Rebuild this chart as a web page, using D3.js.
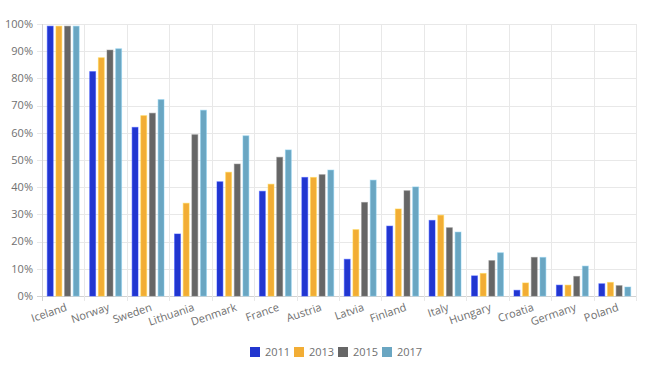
<!DOCTYPE html>
<html>
<head>
<meta charset="utf-8">
<script src="https://cdn.jsdelivr.net/npm/d3@7"></script>
<style>
  body { margin: 0; background: #fff; }
  text { font-family: "Open Sans", sans-serif; }
</style>
</head>
<body>
<script>
// categories and series (values in %)
const countries = ["Iceland", "Norway", "Sweden", "Lithuania", "Denmark", "France", "Austria",
  "Latvia", "Finland", "Italy", "Hungary", "Croatia", "Germany", "Poland"];
const years = ["2011", "2013", "2015", "2017"];
const v2011 = [99.2, 82.5, 62.0, 22.8, 42.0, 38.5, 43.6, 13.5, 25.7, 27.8, 7.4, 2.1, 4.0, 4.5];
const v2013 = [99.2, 87.6, 66.3, 34.1, 45.5, 41.1, 43.6, 24.4, 32.0, 29.7, 8.3, 4.8, 4.0, 5.0];
const v2015 = [99.2, 90.4, 67.2, 59.3, 48.5, 51.0, 44.6, 34.4, 38.7, 25.1, 13.0, 14.2, 7.2, 3.8];
const v2017 = [99.2, 90.9, 72.2, 68.3, 58.9, 53.7, 46.3, 42.6, 40.1, 23.5, 15.9, 14.2, 11.0, 3.3];
const yTicks = [0, 10, 20, 30, 40, 50, 60, 70, 80, 90, 100];
const colors = ["#2236cf", "#f2ad35", "#666666", "#6aa6c2"];

const series = [v2011, v2013, v2015, v2017];
const width = 648, height = 367;

const x = d3.scaleBand().domain(countries).range([42, 636]);
const inner = d3.scaleBand().domain(years)
  .range([x.bandwidth() * 0.1, x.bandwidth() * 0.9])
  .paddingInner(0.32).paddingOuter(0.12);
const y = d3.scaleLinear().domain([0, 100]).range([296, 24]);

const svg = d3.select("body").append("svg")
  .attr("width", width)
  .attr("height", height);

// horizontal grid
svg.append("g").selectAll("line")
  .data(yTicks)
  .enter().append("line")
    .attr("x1", 37).attr("x2", 636)
    .attr("y1", d => Math.round(y(d)) + 0.5)
    .attr("y2", d => Math.round(y(d)) + 0.5)
    .attr("stroke", d => d === 0 ? "#d2d2d2" : "#e8e8e8");

// vertical grid at category boundaries
const bounds = countries.map(c => x(c)).concat([x.range()[1]]);
svg.append("g").selectAll("line")
  .data(bounds)
  .enter().append("line")
    .attr("x1", d => Math.round(d) + 0.5).attr("x2", d => Math.round(d) + 0.5)
    .attr("y1", 24).attr("y2", 301)
    .attr("stroke", (d, i) => i === 0 ? "#d2d2d2" : "#e8e8e8");

// y labels
svg.append("g").selectAll("text")
  .data(yTicks)
  .enter().append("text")
    .attr("x", 33)
    .attr("y", d => y(d))
    .attr("dy", "0.35em")
    .attr("text-anchor", "end")
    .attr("font-size", "11px")
    .attr("fill", "#707070")
    .text(d => d + "%");

// bars
const groups = svg.append("g").selectAll("g")
  .data(countries)
  .enter().append("g")
    .attr("transform", d => "translate(" + x(d) + ",0)");

groups.selectAll("rect")
  .data((c, ci) => years.map((yr, si) => ({ yr: yr, si: si, v: series[si][ci] })))
  .enter().append("rect")
    .attr("x", d => inner(d.yr))
    .attr("width", inner.bandwidth())
    .attr("y", d => y(d.v))
    .attr("height", d => y(0) - y(d.v))
    .attr("fill", d => colors[d.si])
    .attr("stroke", d => d3.color(colors[d.si]).brighter(0.6))
    .attr("stroke-opacity", 0.5)
    .attr("stroke-width", 1);

// x labels, rotated
svg.append("g").selectAll("text")
  .data(countries)
  .enter().append("text")
    .attr("transform", d => "translate(" + (x(d) + x.bandwidth() / 2 + 2) + ",303) rotate(-19)")
    .attr("dy", "0.7em")
    .attr("text-anchor", "end")
    .attr("font-size", "11px")
    .attr("fill", "#707070")
    .text(d => d);

// legend
const legend = svg.append("g").attr("transform", "translate(250,347)");
const item = legend.selectAll("g")
  .data(years)
  .enter().append("g")
    .attr("transform", (d, i) => "translate(" + (i * 44) + ",0)");
item.append("rect")
  .attr("width", 10).attr("height", 10)
  .attr("fill", (d, i) => colors[i]);
item.append("text")
  .attr("x", 15).attr("y", 5)
  .attr("dy", "0.35em")
  .attr("font-size", "11px")
  .attr("fill", "#707070")
  .text(d => d);
</script>
</body>
</html>
